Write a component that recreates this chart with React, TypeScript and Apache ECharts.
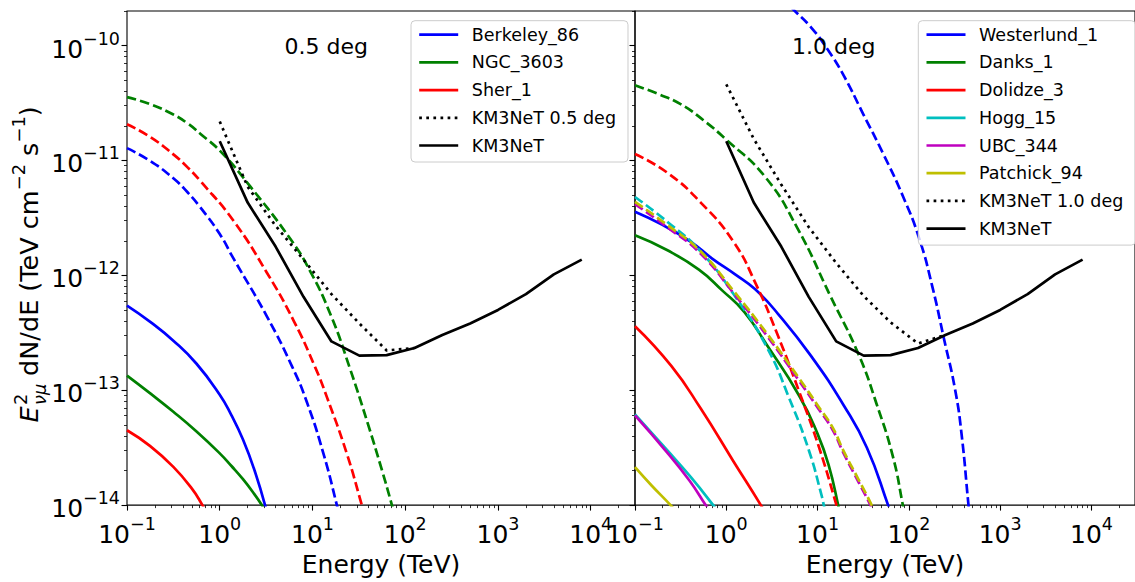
import React, { useEffect, useRef } from "react";
import * as echarts from "echarts";

// ---------- axis limits ----------
const xLimits = [0.1, 3e4]; // TeV
const yLimits = [1e-14, 2e-10]; // TeV cm^-2 s^-1
const xMajorExp = [-1, 0, 1, 2, 3, 4];
const yMajorExp = [-14, -13, -12, -11, -10];
const minorMultipliers = [2, 3, 4, 5, 6, 7, 8, 9];

// ---------- left panel (0.5 deg) ----------
const berkeley86SolidE = [0.1, 0.178, 0.316, 0.562, 1, 1.33, 1.78, 2.37, 3.16];
const berkeley86SolidF = [5.46e-13, 3.94e-13, 2.7e-13, 1.7e-13, 9.14e-14, 6.1e-14, 3.72e-14, 2.01e-14, 9.25e-15];
const ngc3603SolidE = [0.1, 0.178, 0.316, 0.562, 1, 1.33, 1.78, 2.37, 2.84, 3.16];
const ngc3603SolidF = [1.34e-13, 9.38e-14, 6.49e-14, 4.37e-14, 2.82e-14, 2.2e-14, 1.68e-14, 1.24e-14, 1.0e-14, 8.6e-15];
const sher1SolidE = [0.1, 0.178, 0.316, 0.501, 0.65, 0.708];
const sher1SolidF = [4.48e-14, 3.26e-14, 2.15e-14, 1.39e-14, 1.0e-14, 8.8e-15];

const berkeley86DashE = [0.1, 0.178, 0.316, 0.447, 0.612, 1, 1.4, 3.21, 5.98, 8.69, 13.1, 18.3, 20];
const berkeley86DashF = [1.28e-11, 9.89e-12, 7.0e-12, 5.31e-12, 3.94e-12, 2.29e-12, 1.41e-12, 4.42e-13, 1.63e-13, 7.89e-14, 2.82e-14, 1.0e-14, 7.2e-15];
const sher1DashE = [0.1, 0.178, 0.316, 0.447, 0.612, 1.4, 3.21, 6.31, 10.7, 14.3, 23.4, 34.0, 38];
const sher1DashF = [2.07e-11, 1.6e-11, 1.13e-11, 8.75e-12, 6.68e-12, 3.0e-12, 1.06e-12, 3.98e-13, 1.58e-13, 8.71e-14, 2.82e-14, 1.0e-14, 7.2e-15];
const ngc3603DashE = [0.1, 0.178, 0.316, 0.447, 0.612, 1.05, 2.12, 5.73, 9.42, 15.8, 25.1, 39.8, 56.2, 71.8, 80];
const ngc3603DashF = [3.56e-11, 3.09e-11, 2.51e-11, 2.11e-11, 1.72e-11, 1.17e-11, 5.97e-12, 2.09e-12, 1.09e-12, 4.47e-13, 1.58e-13, 5.01e-14, 2.0e-14, 1.0e-14, 7.1e-15];

// ---------- KM3NeT sensitivities ----------
const km3netE = [1, 2, 4, 8, 16, 32, 63, 126, 251, 501, 1000, 2000, 4000, 8000];
const km3netF = [1.47e-11, 4.3e-12, 1.78e-12, 6.5e-13, 2.66e-13, 2.0e-13, 2.02e-13, 2.33e-13, 3.03e-13, 3.81e-13, 5.0e-13, 6.87e-13, 1.02e-12, 1.37e-12];
const km3net05E = [1, 2, 4, 8, 16, 32, 63, 126];
const km3net05F = [2.18e-11, 5.9e-12, 2.7e-12, 1.37e-12, 6.87e-13, 3.81e-13, 2.22e-13, 2.33e-13];
const km3net10E = [1, 2, 4, 8, 16, 32, 63, 126, 251];
const km3net10F = [4.6e-11, 1.54e-11, 6.17e-12, 2.63e-12, 1.28e-12, 6.6e-13, 3.9e-13, 2.55e-13, 3.03e-13];

// ---------- right panel (1.0 deg) ----------
const westerlund1SolidE = [0.1, 0.2, 0.409, 0.7, 1.25, 2.06, 3.68, 8.43, 19.3, 34.7, 59.2, 66.1];
const westerlund1SolidF = [3.58e-12, 2.75e-12, 1.96e-12, 1.4e-12, 1.02e-12, 7.59e-13, 4.63e-13, 2.0e-13, 7.41e-14, 3.16e-14, 1.0e-14, 7.6e-15];
const danks1SolidE = [0.1, 0.224, 0.501, 0.9, 1.58, 2.75, 6.31, 10, 13.2, 16.8, 18.2];
const danks1SolidF = [2.23e-12, 1.66e-12, 1.12e-12, 7.4e-13, 4.79e-13, 2.51e-13, 8.91e-14, 4.17e-14, 2.24e-14, 1.0e-14, 7.1e-15];
const dolidze3SolidE = [0.1, 0.251, 0.525, 1.2, 2.39, 2.63];
const dolidze3SolidF = [3.61e-13, 1.62e-13, 6.92e-14, 2.4e-14, 1.0e-14, 8.7e-15];
const hogg15SolidE = [0.1, 0.229, 0.409, 0.718, 0.76];
const hogg15SolidF = [6.17e-14, 2.96e-14, 1.75e-14, 1.0e-14, 9.3e-15];
const ubc344SolidE = [0.1, 0.229, 0.398, 0.594, 0.63];
const ubc344SolidF = [6.03e-14, 2.82e-14, 1.62e-14, 1.0e-14, 9.3e-15];
const patchick94SolidE = [0.1, 0.151, 0.245, 0.263];
const patchick94SolidF = [2.14e-14, 1.49e-14, 1.0e-14, 9.3e-15];

const westerlund1DashE = [3.16, 5.57, 8.43, 12.8, 19.3, 31.8, 52.2, 85.9, 130, 181, 242, 322, 380, 450, 479];
const westerlund1DashF = [3.16e-10, 2.02e-10, 1.45e-10, 9.33e-11, 5.5e-11, 2.51e-11, 1.15e-11, 4.9e-12, 2.09e-12, 7.94e-13, 2.82e-13, 1.0e-13, 3.98e-14, 1.0e-14, 6.3e-15];
const danks1DashE = [0.1, 0.178, 0.316, 0.562, 0.977, 2.64, 6.05, 13.8, 28.2, 44.3, 67.0, 85.9, 91.2];
const danks1DashF = [4.51e-11, 3.8e-11, 3.09e-11, 2.24e-11, 1.54e-11, 7.26e-12, 2.55e-12, 6.61e-13, 2.04e-13, 7.59e-14, 2.63e-14, 1.0e-14, 7.6e-15];
const dolidze3DashE = [0.1, 0.229, 0.525, 1.2, 2.15, 3.53, 6.31, 10.4, 16.1, 17.4];
const dolidze3DashF = [1.14e-11, 7.76e-12, 4.3e-12, 1.96e-12, 8.13e-13, 3.24e-13, 9.64e-14, 3.16e-14, 1.0e-14, 7.9e-15];
const hogg15DashE = [0.1, 0.229, 0.525, 1.2, 2.75, 4.91, 8.07, 11.2, 11.7, 12.6];
const hogg15DashF = [4.81e-12, 2.9e-12, 1.61e-12, 6.87e-13, 2.41e-13, 8.45e-14, 2.96e-14, 1.17e-14, 1.0e-14, 7.9e-15];
const ubc344DashE = [0.1, 0.229, 0.525, 1.2, 2.75, 6.31, 10, 14.5, 19.3, 28.2, 39.1, 41.7];
const ubc344DashF = [4.17e-12, 2.6e-12, 1.54e-12, 7.0e-13, 3.02e-13, 1.2e-13, 7.08e-14, 4.57e-14, 2.82e-14, 1.58e-14, 9.5e-15, 8.3e-15];
const patchick94DashE = [0.1, 0.229, 0.525, 1.2, 2.75, 6.31, 10, 14.5, 19.3, 28.2, 39.1, 41.7];
const patchick94DashF = [4.37e-12, 2.72e-12, 1.61e-12, 7.33e-13, 3.16e-13, 1.26e-13, 7.41e-14, 4.79e-14, 2.95e-14, 1.66e-14, 1.0e-14, 8.7e-15];

const C = { b: "#0000ff", g: "#008000", r: "#ff0000", c: "#00bfbf", m: "#bf00bf", y: "#bfbf00", k: "#000000" };
const FONT = "DejaVu Sans";
const LW = 2.7;
const DASH = [9.5, 4.1];
const DOT = [2.7, 4.4];

// legend entries: [label, colour, line style]
const leftLegend: [string, string, any][] = [
  ["Berkeley_86", C.b, "solid"],
  ["NGC_3603", C.g, "solid"],
  ["Sher_1", C.r, "solid"],
  ["KM3NeT 0.5 deg", C.k, DOT],
  ["KM3NeT", C.k, "solid"],
];
const rightLegend: [string, string, any][] = [
  ["Westerlund_1", C.b, "solid"],
  ["Danks_1", C.g, "solid"],
  ["Dolidze_3", C.r, "solid"],
  ["Hogg_15", C.c, "solid"],
  ["UBC_344", C.m, "solid"],
  ["Patchick_94", C.y, "solid"],
  ["KM3NeT 1.0 deg", C.k, DOT],
  ["KM3NeT", C.k, "solid"],
];

const toLog = (E: number[], F: number[]) => E.map((e, i) => [Math.log10(e), Math.log10(F[i])]);

function lineSeries(name: string, E: number[], F: number[], color: string, type: any, panel: number, smooth: number | boolean) {
  return {
    type: "line",
    name,
    xAxisIndex: panel * 2,
    yAxisIndex: panel * 2,
    data: toLog(E, F),
    symbol: "none",
    showSymbol: false,
    smooth,
    clip: true,
    silent: true,
    lineStyle: { color, width: LW, type, cap: "butt", join: "round" },
    itemStyle: { color },
    z: 3,
  };
}

const supText = (e: number) => (e < 0 ? "\u2212" + Math.abs(e) : String(e));
const tickRich = {
  b: { fontSize: 25, fontFamily: FONT, color: "#000", verticalAlign: "bottom" },
  s: { fontSize: 17.5, fontFamily: FONT, color: "#000", verticalAlign: "top", padding: [0, 0, 14, 0] },
};
const tickFormatter = (v: number) => `{b|10}{s|${supText(Math.round(v))}}`;
const LEGEND_ICON = "path://M0,0M39,14M0,7L39,7";

export default function App() {
  const ref = useRef<HTMLDivElement>(null);
  useEffect(() => {
    if (!ref.current) return;
    const chart = echarts.init(ref.current, null, { renderer: "svg" });
    const xMin = Math.log10(xLimits[0]);
    const xMax = Math.log10(xLimits[1]);
    const yMin = Math.log10(yLimits[0]);
    const yMax = Math.log10(yLimits[1]);
    const xMinor: number[] = [];
    xMajorExp.forEach((e) => minorMultipliers.forEach((m) => {
      const v = Math.log10(m * Math.pow(10, e));
      if (v > xMin && v < xMax) xMinor.push(v);
    }));
    const yMinor: number[] = [];
    yMajorExp.forEach((e) => minorMultipliers.forEach((m) => {
      const v = Math.log10(m * Math.pow(10, e));
      if (v > yMin && v <= yMax + 1e-9) yMinor.push(v);
    }));

    const gridDefs = [
      { left: 127, top: 11, width: 508, height: 505 },
      { left: 635, top: 11, width: 507, height: 505 },
    ];

    const xAxes: any[] = [];
    const yAxes: any[] = [];
    [0, 1].forEach((g) => {
      xAxes.push({
        type: "value", gridIndex: g, min: xMin, max: xMax, position: "bottom",
        axisLine: { show: false, onZero: false }, splitLine: { show: false },
        axisTick: { show: true, inside: false, length: 5.5, customValues: xMajorExp, lineStyle: { color: "#000", width: 1.1 } },
        axisLabel: { show: true, customValues: xMajorExp, margin: 10, formatter: tickFormatter, rich: tickRich },
        name: "Energy (TeV)", nameLocation: "middle", nameGap: 41,
        nameTextStyle: { fontSize: 25, fontFamily: FONT, color: "#000" },
      });
      xAxes.push({
        type: "value", gridIndex: g, min: xMin, max: xMax, position: "bottom", offset: 0,
        axisLine: { show: false, onZero: false }, splitLine: { show: false },
        axisTick: { show: true, inside: false, length: 3, customValues: xMinor, lineStyle: { color: "#000", width: 0.8 } },
        axisLabel: { show: false },
      });
      yAxes.push({
        type: "value", gridIndex: g, min: yMin, max: yMax, position: "left",
        axisLine: { show: false, onZero: false }, splitLine: { show: false },
        axisTick: { show: true, inside: false, length: 5.5, customValues: yMajorExp, lineStyle: { color: "#000", width: 1.1 } },
        axisLabel: { show: g === 0, customValues: yMajorExp, margin: 7, formatter: tickFormatter, rich: tickRich },
      });
      yAxes.push({
        type: "value", gridIndex: g, min: yMin, max: yMax, position: "left", offset: 0,
        axisLine: { show: false, onZero: false }, splitLine: { show: false },
        axisTick: { show: true, inside: false, length: 3, customValues: yMinor, lineStyle: { color: "#000", width: 0.8 } },
        axisLabel: { show: false },
      });
    });

    const S = 0.5;
    const series: any[] = [
      lineSeries("Berkeley_86", berkeley86SolidE, berkeley86SolidF, C.b, "solid", 0, S),
      lineSeries("NGC_3603", ngc3603SolidE, ngc3603SolidF, C.g, "solid", 0, S),
      lineSeries("Sher_1", sher1SolidE, sher1SolidF, C.r, "solid", 0, S),
      lineSeries("Berkeley_86 (dashed)", berkeley86DashE, berkeley86DashF, C.b, DASH, 0, S),
      lineSeries("NGC_3603 (dashed)", ngc3603DashE, ngc3603DashF, C.g, DASH, 0, S),
      lineSeries("Sher_1 (dashed)", sher1DashE, sher1DashF, C.r, DASH, 0, S),
      lineSeries("KM3NeT 0.5 deg", km3net05E, km3net05F, C.k, DOT, 0, false),
      lineSeries("KM3NeT", km3netE, km3netF, C.k, "solid", 0, false),

      lineSeries("Westerlund_1", westerlund1SolidE, westerlund1SolidF, C.b, "solid", 1, S),
      lineSeries("Westerlund_1 (dashed)", westerlund1DashE, westerlund1DashF, C.b, DASH, 1, S),
      lineSeries("Danks_1", danks1SolidE, danks1SolidF, C.g, "solid", 1, S),
      lineSeries("Danks_1 (dashed)", danks1DashE, danks1DashF, C.g, DASH, 1, S),
      lineSeries("Dolidze_3", dolidze3SolidE, dolidze3SolidF, C.r, "solid", 1, S),
      lineSeries("Dolidze_3 (dashed)", dolidze3DashE, dolidze3DashF, C.r, DASH, 1, S),
      lineSeries("Hogg_15", hogg15SolidE, hogg15SolidF, C.c, "solid", 1, S),
      lineSeries("Hogg_15 (dashed)", hogg15DashE, hogg15DashF, C.c, DASH, 1, S),
      lineSeries("UBC_344", ubc344SolidE, ubc344SolidF, C.m, "solid", 1, S),
      lineSeries("UBC_344 (dashed)", ubc344DashE, ubc344DashF, C.m, DASH, 1, S),
      lineSeries("Patchick_94", patchick94SolidE, patchick94SolidF, C.y, "solid", 1, S),
      lineSeries("Patchick_94 (dashed)", patchick94DashE, patchick94DashF, C.y, DASH, 1, S),
      lineSeries("KM3NeT 1.0 deg", km3net10E, km3net10F, C.k, DOT, 1, false),
      lineSeries("KM3NeT", km3netE, km3netF, C.k, "solid", 1, false),
    ];

    const legendData = (items: [string, string, any][]) =>
      items.map(([name, color, type]) => ({
        name,
        icon: LEGEND_ICON,
        itemStyle: { color: "none", borderColor: color, borderWidth: LW, borderType: type, borderCap: "butt" },
      }));

    const legendCommon = {
      orient: "vertical",
      itemWidth: 39,
      itemHeight: 14,
      itemGap: 5.7,
      selectedMode: false,
      backgroundColor: "rgba(255,255,255,0.8)",
      borderColor: "#cccccc",
      borderWidth: 1,
      borderRadius: 4,
      padding: [3, 12, 5.5, 5.7],
      textStyle: { fontSize: 17.5, fontFamily: FONT, color: "#000", lineHeight: 22, padding: [0, 0, 0, 8.6] },
      z: 10,
    };

    const YF = 25.5;
    const YS = 17.9;
    const supRich = {
      n: { fontSize: YF, fontFamily: FONT, color: "#000", verticalAlign: "bottom" },
      s: { fontSize: YS, fontFamily: FONT, color: "#000", verticalAlign: "top", padding: [0, 0, 14.3, 0] },
    };

    chart.setOption({
      animation: false,
      backgroundColor: "#ffffff",
      textStyle: { fontFamily: FONT },
      grid: gridDefs.map((g) => ({ ...g, show: true, borderColor: "#000", borderWidth: 1.1, backgroundColor: "transparent", containLabel: false })),
      xAxis: xAxes,
      yAxis: yAxes,
      legend: [
        { ...legendCommon, data: legendData(leftLegend), left: 411, top: 20.7 },
        { ...legendCommon, data: legendData(rightLegend), left: 918.3, top: 20.7 },
      ],
      graphic: [
        { type: "text", x: 326.3, y: 46, z: 20, style: { text: "0.5 deg", fontSize: 22, fontFamily: FONT, fill: "#000", align: "center", verticalAlign: "middle" } },
        { type: "text", x: 833.8, y: 46, z: 20, style: { text: "1.0 deg", fontSize: 22, fontFamily: FONT, fill: "#000", align: "center", verticalAlign: "middle" } },
        {
          type: "group", x: 29, y: 263.5, rotation: Math.PI / 2, z: 20,
          children: [
            { type: "text", x: -159, y: 0, style: { text: "E", fontSize: YF, fontStyle: "italic", fontFamily: FONT, fill: "#000", align: "left", verticalAlign: "middle" } },
            { type: "text", x: -141.5, y: -9, style: { text: "2", fontSize: YS, fontFamily: FONT, fill: "#000", align: "left", verticalAlign: "middle" } },
            { type: "text", x: -141.5, y: 10.5, style: { text: "\u03bd\u03bc", fontSize: YS, fontStyle: "italic", fontFamily: FONT, fill: "#000", align: "left", verticalAlign: "middle" } },
            {
              type: "text", x: -120.5, y: -3.3,
              style: {
                text: "{n| dN/dE (TeV cm}{s|\u22122}{n| s}{s|\u22121}{n|)}",
                rich: supRich, align: "left", verticalAlign: "middle", fontFamily: FONT, fill: "#000",
              },
            },
          ],
        },
      ],
      series,
    });
    return () => chart.dispose();
  }, []);

  return (
    <div style={{ position: "fixed", left: 0, top: 0, width: 1135, height: 582, overflow: "hidden", background: "#fff" }}>
      <div ref={ref} style={{ width: 1135, height: 582 }} />
    </div>
  );
}
